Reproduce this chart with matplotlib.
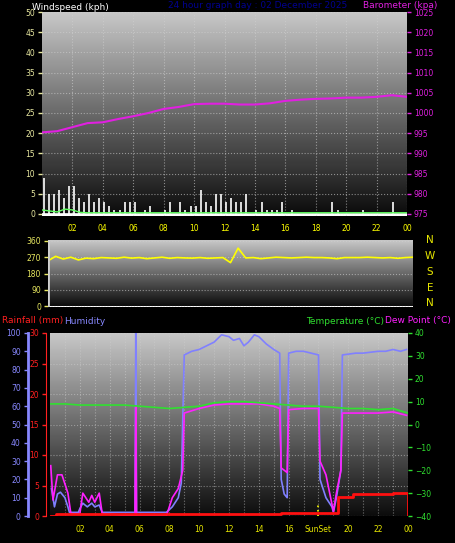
import numpy as np
import matplotlib
matplotlib.use("Agg")
import matplotlib.pyplot as plt

# ---- data ----
baro_hours = np.arange(0, 25)
baro = [995.2, 995.5, 996.5, 997.5, 997.7, 998.5, 999.2, 1000.0, 1001.0, 1001.5, 1002.2, 1002.3,
        1002.3, 1002.1, 1002.1, 1002.4, 1003.0, 1003.3, 1003.5, 1003.6, 1003.8, 1003.8, 1004.0, 1004.4, 1004.0]

wind_hours = np.arange(72) / 3 + 0.1
wind_gust = [9, 5, 5, 6, 4, 7, 7, 4, 3, 5, 3, 4, 3, 2, 1, 1, 3, 3, 3, 0, 1, 2, 0, 0,
             1, 3, 0, 3, 1, 2, 2, 6, 3, 2, 5, 5, 3, 4, 3, 3, 5, 0, 1, 3, 1, 1, 1, 3,
             0, 1, 0, 0, 0, 0, 0, 0, 0, 3, 1, 0, 0, 0, 0, 1, 0, 0, 0, 0, 0, 3, 0, 0]
wind_avg_hours = [0, 1, 1.5, 2, 2.5, 3, 24]
wind_avg = [1.0, 0.5, 1.2, 1.0, 0.4, 0.3, 0.3]

dir_hours = np.arange(49) / 2
wind_dir = [250, 275, 260, 270, 255, 265, 262, 268, 266, 264, 270, 265, 268, 262, 266, 270,
            264, 268, 266, 265, 268, 264, 266, 268, 240, 320, 266, 268, 262, 266, 270, 268,
            266, 268, 270, 268, 268, 266, 262, 268, 268, 268, 270, 268, 266, 268, 264, 268, 270]

hum_hours = [0.1, 0.3, 0.5, 0.7, 1.0, 1.2, 1.3, 1.9, 2.0, 2.2, 2.5, 2.8, 3.0, 3.3, 3.5, 5.7, 5.75, 5.8,
             7.8, 8.2, 8.6, 8.8, 9.0, 9.5, 10, 10.5, 11, 11.5, 12, 12.3, 12.7, 13, 13.3, 13.7, 14,
             14.5, 15, 15.4, 15.5, 15.7, 15.9, 16.0, 16.5, 17, 17.5, 18, 18.1, 18.5, 18.9, 19.0, 19.2,
             19.5, 19.6, 20.5, 21, 22, 22.5, 23, 23.5, 23.9]
humidity = [15, 5, 12, 13, 10, 5, 2, 2, 4, 7, 5, 7, 5, 6, 2, 2, 100, 2,
            2, 5, 10, 18, 88, 90, 91, 93, 95, 99, 98, 96, 97, 93, 95, 99, 98,
            94, 91, 89, 20, 12, 10, 89, 90, 90, 89, 88, 20, 10, 5, 2, 10,
            25, 88, 89, 89, 90, 90, 91, 90, 91]

dew_hours = [0.05, 0.2, 0.5, 0.8, 1.2, 1.4, 2.0, 2.2, 2.4, 2.6, 2.8, 3.0, 3.3, 3.5, 5.7, 5.75, 5.8,
             7.8, 8.2, 8.6, 8.9, 9.0, 10, 11, 12, 13, 14, 15, 15.4, 15.5, 15.7, 15.9, 16.0, 17, 18,
             18.1, 18.5, 19.0, 19.2, 19.5, 19.6, 20.5, 22, 23, 23.9]
dew_point = [-18, -33, -22, -22, -30, -39, -39, -30, -32, -34, -31, -34, -30, -39, -40, 8, -40,
             -40, -32, -28, -20, 5, 7, 8.5, 9, 9, 9, 8, 7, -19, -20, -21, 6.5, 7, 7,
             -16, -22, -38, -30, -20, 5, 5, 5, 5.5, 4]

temp_hours = np.arange(25)
temperature = [9, 9, 8.5, 8.5, 8.5, 8.5, 8, 7.5, 7, 7.5, 8, 9.5, 10, 10, 9.5, 9, 8.5, 8, 8, 7.5, 7, 7, 6.5, 7, 5]

rain_hours = [0.1, 0.4, 15.5, 18.0, 19.2, 19.3, 20.3, 23.0, 23.9, 24.0]
rainfall = [0, 0.3, 0.5, 0.5, 0.5, 3.1, 3.55, 3.7, 3.7, 0]

sunrise, sunset = 5.75, 18.0

# ---- figure ----
W, H = 455, 543
fig = plt.figure(figsize=(W / 100, H / 100), dpi=100, facecolor="black")


def box(x0, y0, x1, y1):
    return [x0 / W, 1 - y1 / H, (x1 - x0) / W, (y1 - y0) / H]


def gradient(ax, ylo, yhi):
    g = np.linspace(0.78, 0.05, 100).reshape(-1, 1)
    ax.imshow(g, extent=[0, 24, ylo, yhi], aspect="auto", cmap="gray", vmin=0, vmax=1,
              origin="upper", zorder=0)


def style(ax, color):
    ax.tick_params(axis="y", colors=color, labelsize=5.5, length=3, width=1, pad=2)
    ax.tick_params(axis="x", colors="yellow", labelsize=5.5, length=0)
    for s in ax.spines.values():
        s.set_visible(False)


hour_ticks = list(range(2, 25, 2))
hour_labels = [f"{h % 24:02d}" for h in hour_ticks]

# top panel
ax1 = fig.add_axes(box(42, 12, 407, 216))
gradient(ax1, 0, 50)
ax1.set_xlim(0, 24)
ax1.set_ylim(-0.5, 50)
ax1.set_yticks(range(0, 51, 5))
ax1.set_xticks(hour_ticks, hour_labels)
ax1.grid(color="#d0d0d0", linestyle=":", linewidth=0.8, alpha=0.6)
ax1.vlines(wind_hours, 0, wind_gust, color="white", linewidth=1.2, zorder=3)
ax1.axhline(0, color="white", linewidth=1.2, zorder=3)
ax1.plot(wind_avg_hours, wind_avg, color="#60ff60", linewidth=1, zorder=4)
style(ax1, "#e8e8a0")
ax1.tick_params(axis="x", pad=6)
ax1b = ax1.twinx()
ax1b.set_ylim(974.5, 1025)
ax1b.set_yticks(range(975, 1026, 5))
ax1b.plot(baro_hours, baro, color="#e020e0", linewidth=1.5, zorder=3)
style(ax1b, "#e020e0")
fig.text(32 / W, 1 - 7 / H, "Windspeed (kph)", color="white", fontsize=6.5, va="center")
fig.text(168 / W, 1 - 6 / H, "24 hour graph day : 02 December 2025", color="#000090",
         fontsize=6.5, va="center")
fig.text(363 / W, 1 - 6 / H, "Barometer (kpa)", color="#e020e0", fontsize=6.5, va="center")

# middle panel
ax2 = fig.add_axes(box(48, 240, 413, 307))
gradient(ax2, 0, 360)
ax2.set_xlim(0, 24)
ax2.set_ylim(-5, 365)
ax2.set_yticks([0, 90, 180, 270, 360])
ax2.set_xticks([])
ax2.grid(axis="y", color="#d0d0d0", linestyle=":", linewidth=0.8, alpha=0.6)
ax2.plot(dir_hours, wind_dir, color="yellow", linewidth=1.2)
style(ax2, "#e8e860")
ax2.axvline(0, color="#d0d0d0", linewidth=2)
for lab, y in zip("NWSEN", [240, 256, 272, 288, 303]):
    fig.text(430 / W, 1 - y / H, lab, color="#e8e800", fontsize=7.5, va="center", ha="center")

# bottom panel
fig.text(2 / W, 1 - 321 / H, "Rainfall (mm)", color="#ff2020", fontsize=6.5, va="center")
fig.text(64 / W, 1 - 321 / H, "Humidity", color="#8888ff", fontsize=6.5, va="center")
fig.text(306 / W, 1 - 321 / H, "Temperature (°C)", color="#30e030", fontsize=6.5, va="center")
fig.text(385 / W, 1 - 321 / H, "Dew Point (°C)", color="#ff20ff", fontsize=6.5, va="center")

ax3 = fig.add_axes(box(50, 333, 408, 516))
gradient(ax3, 0, 30)
ax3.set_xlim(0, 24)
ax3.set_ylim(0, 30)
ax3.set_yticks(range(0, 31, 5))
ax3.set_xticks(range(1, 25), [""] * 24)
ax3.grid(color="#d0d0d0", linestyle=":", linewidth=0.8, alpha=0.5)
for h, lab in zip(hour_ticks, hour_labels):
    if h == 18:
        lab = "SunSet"
    ax3.text(h, -2.2, lab, color="#e8e800", fontsize=5.5, ha="center", va="center")
for s in (sunrise, sunset):
    ax3.vlines(s, 0, 2.2, color="yellow", linestyle=":", linewidth=1.2, zorder=5)
style(ax3, "#ff2020")
ax3.spines["left"].set_visible(True)
ax3.spines["left"].set_color("#ff2020")
ax3.spines["left"].set_position(("outward", 3))

ax_h = ax3.twinx()
ax_h.set_ylim(0, 100)
ax_h.set_yticks(range(0, 101, 10))
ax_h.yaxis.set_ticks_position("left")
style(ax_h, "#8888ff")
ax_h.spines["left"].set_visible(True)
ax_h.spines["left"].set_position(("outward", 16))
ax_h.spines["left"].set_color("#8888ff")
ax_h.spines["left"].set_linewidth(2)
ax_h.plot(hum_hours, humidity, color="#8080ff", linewidth=1.2)

ax_t = ax3.twinx()
ax_t.set_ylim(-40, 40)
ax_t.set_yticks(range(-40, 41, 10))
style(ax_t, "#30e030")
ax_t.plot(temp_hours, temperature, color="#30e030", linewidth=1.2, zorder=3)
ax_t.plot(dew_hours, dew_point, color="#ff20ff", linewidth=1.2, zorder=2)

ax_r = ax3.twinx()
ax_r.set_ylim(0, 30)
ax_r.set_yticks([])
style(ax_r, "#ff2020")
ax_r.step(rain_hours, rainfall, where="post", color="#ff1010", linewidth=2, zorder=4)

fig.savefig("out.png", dpi=100, facecolor="black")
